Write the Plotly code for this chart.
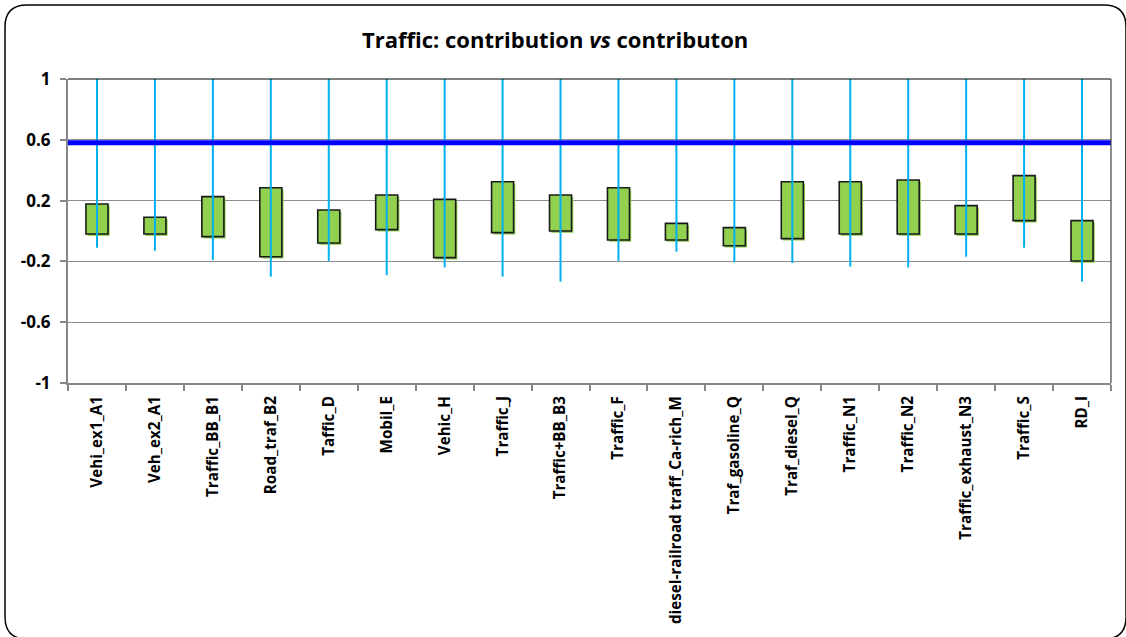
import plotly.graph_objects as go

categories = ["Vehi_ex1_A1", "Veh_ex2_A1", "Traffic_BB_B1", "Road_traf_B2", "Taffic_D",
              "Mobil_E", "Vehic_H", "Traffic_J", "Traffic+BB_B3", "Traffic_F",
              "diesel-railroad traff_Ca-rich_M", "Traf_gasoline_Q", "Traf_diesel_Q",
              "Traffic_N1", "Traffic_N2", "Traffic_exhaust_N3", "Traffic_S", "RD_I"]
box_top = [0.178, 0.09, 0.226, 0.285, 0.138, 0.237, 0.208, 0.324, 0.237, 0.285,
           0.05, 0.022, 0.324, 0.324, 0.336, 0.167, 0.364, 0.068]
box_bottom = [-0.02, -0.02, -0.037, -0.169, -0.079, 0.009, -0.175, -0.011, 0.0, -0.059,
              -0.059, -0.097, -0.05, -0.02, -0.02, -0.02, 0.068, -0.197]
whisker_high = [1.0, 1.0, 1.0, 1.0, 1.0, 1.0, 1.0, 1.0, 1.0, 1.0,
                1.0, 1.0, 1.0, 1.0, 1.0, 1.0, 1.0, 1.0]
whisker_low = [-0.11, -0.13, -0.19, -0.30, -0.197, -0.29, -0.24, -0.30, -0.333, -0.197,
               -0.136, -0.206, -0.21, -0.235, -0.24, -0.169, -0.11, -0.333]
threshold = 0.58
y_tick_vals = [1, 0.6, 0.2, -0.2, -0.6, -1]
y_tick_text = ["1", "0.6", "0.2", "-0.2", "-0.6", "-1"]

W, H = 1126, 637
ML, MR, MT, MB = 68, 15, 79, 254
PW, PH = W - ML - MR, H - MT - MB

FONT = "Open Sans"

fig = go.Figure()

# threshold line across the whole plot width (on an overlaid 0..1 x axis)
fig.add_trace(go.Scatter(x=[0, 1], y=[threshold, threshold], xaxis="x2", yaxis="y",
                         mode="lines", line=dict(color="#0000FF", width=5),
                         showlegend=False, hoverinfo="skip"))

# whiskers (high-low lines)
wx, wy = [], []
for c, lo, hi in zip(categories, whisker_low, whisker_high):
    wx += [c, c, None]
    wy += [lo, hi, None]

heights = [t - b for t, b in zip(box_top, box_bottom)]
BW = 0.38

fig.add_trace(go.Scatter(x=wx, y=wy, mode="lines", line=dict(color="#00B0F0", width=2),
                         showlegend=False, hoverinfo="skip"))
# shadow of boxes
fig.add_trace(go.Bar(x=categories, y=heights, base=[b - 0.012 for b in box_bottom],
                     width=BW, offset=-BW / 2 + 0.03,
                     marker=dict(color="#92D050", line=dict(width=0)),
                     hoverinfo="skip", showlegend=False))
fig.add_trace(go.Bar(x=categories, y=heights, base=box_bottom, width=BW, offset=-BW / 2,
                     marker=dict(color="#92D050", line=dict(color="#1a1a1a", width=1.6)),
                     showlegend=False))


def px2paper(px, py):
    return (px - ML) / PW, (H - MB - py) / PH


def P(x, y):
    a, b = px2paper(x, y)
    return f"{a:.5f},{b:.5f}"


# rounded outer chart border
L, T, R, B, r = 5, 5, 1126, 639, 22
path = (f"M {P(L + r, T)} L {P(R - r, T)} Q {P(R, T)} {P(R, T + r)} "
        f"L {P(R, B - r)} Q {P(R, B)} {P(R - r, B)} "
        f"L {P(L + r, B)} Q {P(L, B)} {P(L, B - r)} "
        f"L {P(L, T + r)} Q {P(L, T)} {P(L + r, T)} Z")
fig.add_shape(type="path", path=path, xref="paper", yref="paper",
              line=dict(color="#000000", width=1.5), layer="above")

# plot area border top/right
fig.add_shape(type="line", xref="paper", yref="paper", x0=0, x1=1, y0=1, y1=1,
              line=dict(color="#000000", width=1.2), layer="above")
fig.add_shape(type="line", xref="paper", yref="paper", x0=1, x1=1, y0=0, y1=1,
              line=dict(color="#404040", width=1.2), layer="above")

fig.update_layout(
    width=W, height=H,
    margin=dict(l=ML, r=MR, t=MT, b=MB),
    paper_bgcolor="white", plot_bgcolor="white",
    barmode="overlay",
    showlegend=False,
    title=dict(text="Traffic: contribution <i>vs</i> contributon",
               x=0.493, xanchor="center", y=1 - 40 / H, yanchor="middle",
               xref="container", yref="container",
               font=dict(family=FONT, size=22, color="black", weight="bold")),
    xaxis=dict(type="category", tickangle=-90, tickson="boundaries",
               ticks="outside", ticklen=6, tickcolor="#868686", tickwidth=1.5,
               showline=True, linecolor="#868686", linewidth=2,
               showgrid=False, automargin=False, ticklabelstandoff=5,
               tickfont=dict(family=FONT, size=15.2, color="black", weight="bold"),
               range=[-0.5, len(categories) - 0.5]),
    xaxis2=dict(overlaying="x", range=[0, 1], visible=False, showgrid=False,
                zeroline=False),
    yaxis=dict(range=[-1, 1], tickvals=y_tick_vals, ticktext=y_tick_text,
               ticks="outside", ticklen=6, tickcolor="#868686", tickwidth=1.5,
               showline=True, linecolor="#868686", linewidth=2,
               showgrid=True, gridcolor="#8c8c8c", gridwidth=1.3,
               zeroline=False, ticklabelstandoff=6, automargin=False,
               tickfont=dict(family=FONT, size=17, color="black", weight="bold")),
)

fig.write_html("out.html", config={"displayModeBar": False},
               post_script="document.body.style.margin='0px';"
                           "document.body.style.overflow='hidden';")
